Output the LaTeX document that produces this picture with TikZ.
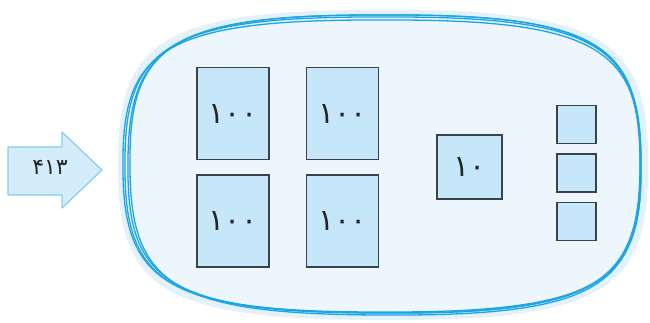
\documentclass[tikz,border=0pt]{standalone}
\usepackage{fontspec}
\newfontfamily\ar[Script=Arabic]{DejaVu Sans}
\definecolor{rimblue}{HTML}{1BA5E2}
\definecolor{areafill}{HTML}{EDF6FD}
\definecolor{glowblue}{HTML}{E3F1FB}
\definecolor{arrowfill}{HTML}{D3EDFA}
\definecolor{arrowline}{HTML}{86CEEE}
\definecolor{boxfill}{HTML}{C6E7F9}
\definecolor{boxline}{HTML}{3B4248}
\tikzset{
  blk/.style={draw=boxline, fill=boxfill, line width=1.1pt, inner sep=0pt,
    font=\ar\fontsize{30}{30}\selectfont, text=black!85},
  hund/.style={blk, minimum width=72pt, minimum height=92pt},
  tens/.style={blk, minimum width=65pt, minimum height=64pt},
  unit/.style={blk, minimum width=39pt, minimum height=38pt},
  rim/.style={draw=rimblue, line width=1.3pt},
}
\newcommand\rimpath[6]{% cx cy hw hh dx dy
  (#1,#2-#4) .. controls (#1+0.84*#3,#2-#4-1) and (#1+#3+1,#2-0.8*#4) .. (#1+#3,#2+#6)
  .. controls (#1+#3+1,#2+0.8*#4) and (#1+0.84*#3,#2+#4+1) .. (#1+#5,#2+#4)
  .. controls (#1-0.84*#3,#2+#4) and (#1-#3-1,#2+0.8*#4) .. (#1-#3,#2-#6)
  .. controls (#1-#3-1,#2-0.8*#4) and (#1-0.84*#3,#2-#4-1) .. (#1,#2-#4)}
\begin{document}
\begin{tikzpicture}[x=1pt,y=-1pt]
\useasboundingbox (0,0) rectangle (650,322);
% soft glow and fill
\fill[glowblue] \rimpath{383}{165}{265}{155}{0}{0};
\fill[areafill] \rimpath{383}{165}{258}{148}{0}{0};
% hand-drawn rims
\draw[rim] \rimpath{383}{165}{258}{148}{0}{0};
\draw[rim] \rimpath{384}{164}{256}{149}{4}{-3};
\draw[rim] \rimpath{382}{166}{259}{146}{-3}{2};
\draw[rim] \rimpath{385}{165}{255}{150}{2}{3};
% input arrow
\draw[draw=arrowline, fill=arrowfill, line width=1.2pt, line join=round]
  (8,147) -- (62,147) -- (62,132) -- (102,170) -- (62,208) -- (62,195) -- (8,195) -- cycle;
\node[font=\ar\fontsize{22}{22}\selectfont, text=black!85] (num) at (50,167) {۴۱۳};
% hundreds
\node[hund] (h1) at (233,113.5) {۱۰۰};
\node[hund] (h2) at (342.5,113.5) {۱۰۰};
\node[hund] (h3) at (233,221) {۱۰۰};
\node[hund] (h4) at (342.5,221) {۱۰۰};
% ten
\node[tens] (t1) at (469.5,167) {۱۰};
% units
\node[unit] (u1) at (576.5,124.5) {};
\node[unit] (u2) at (576.5,173) {};
\node[unit] (u3) at (576.5,221.5) {};
\end{tikzpicture}
\end{document}
